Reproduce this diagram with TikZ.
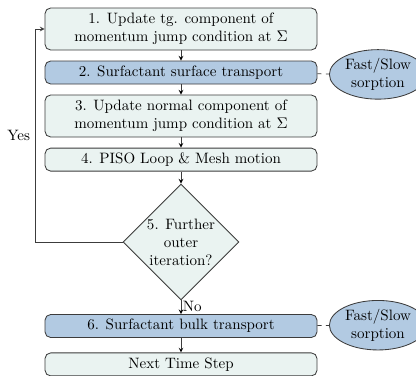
\documentclass[tikz,border=0pt]{standalone}
\usetikzlibrary{shapes.geometric}

\definecolor{stepfill}{RGB}{234,243,241}
\definecolor{sorpfill}{RGB}{178,202,226}
\definecolor{linegray}{RGB}{60,60,60}

\tikzset{
	stepbox/.style={draw=linegray, line width=0.6pt, rounded corners=4, fill=stepfill,
		minimum width=6.8cm, align=center, inner sep=2pt},
	surfbox/.style={stepbox, fill=sorpfill},
	decide/.style={draw=linegray, line width=0.6pt, diamond, aspect=1, fill=stepfill,
		minimum width=2.9cm, minimum height=2.9cm, align=center, inner sep=0pt},
	sorp/.style={draw=linegray, line width=0.6pt, ellipse, fill=sorpfill,
		minimum width=2.25cm, minimum height=1.12cm, align=center, inner sep=1pt},
	flow/.style={-stealth, draw=linegray, line width=0.5pt},
	link/.style={dashed, draw=linegray, line width=0.5pt}
}

\begin{document}
\begin{tikzpicture}[font=\fontsize{10.7pt}{12.8pt}\selectfont]
		\useasboundingbox (0,0) rectangle (10.4,-9.375);

		%% steps
		\node[stepbox, minimum height=1.05cm] at (4.525,-0.725)(s1)
			{1. Update tg. component of\\momentum jump condition at $\Sigma$};
		\node[surfbox, minimum height=0.575cm] at (4.525,-1.8125)(s2)
			{2. Surfactant surface transport};
		\node[stepbox, minimum height=1.05cm] at (4.525,-2.9)(s3)
			{3. Update normal component of\\momentum jump condition at $\Sigma$};
		\node[stepbox, minimum height=0.575cm] at (4.525,-3.99)(s4)
			{4. PISO Loop \& Mesh motion};

		%% decision
		\node[decide] at (4.525,-6.05)(d5){5. Further\\outer\\iteration?};

		\node[surfbox, minimum height=0.575cm] at (4.525,-8.15)(s6)
			{6. Surfactant bulk transport};
		\node[stepbox, minimum height=0.575cm] at (4.525,-9.11)(next)
			{Next Time Step};

		%% sorption
		\node[sorp] at (9.45,-1.86)(sp1){Fast/Slow\\sorption};
		\node[sorp] at (9.45,-8.13)(sp2){Fast/Slow\\sorption};

		\path[flow] (s1)edge(s2)(s2)edge(s3)(s3)edge(s4)(s4)edge(d5)(s6)edge(next);
		\path[flow] (d5)edge node[right, inner sep=1pt, pos=0.45]{No}(s6);

		\path[link] (s2)edge(sp1)(s6)edge(sp2);

		%% loop back
		\coordinate (c1) at (0.875,-6.05);
		\coordinate (c2) at (0.875,-0.725);
		\draw[flow] (d5.west)--(c1)--node[left, pos=0.5]{Yes}(c2)--(s1.west);
	\end{tikzpicture}
\end{document}
